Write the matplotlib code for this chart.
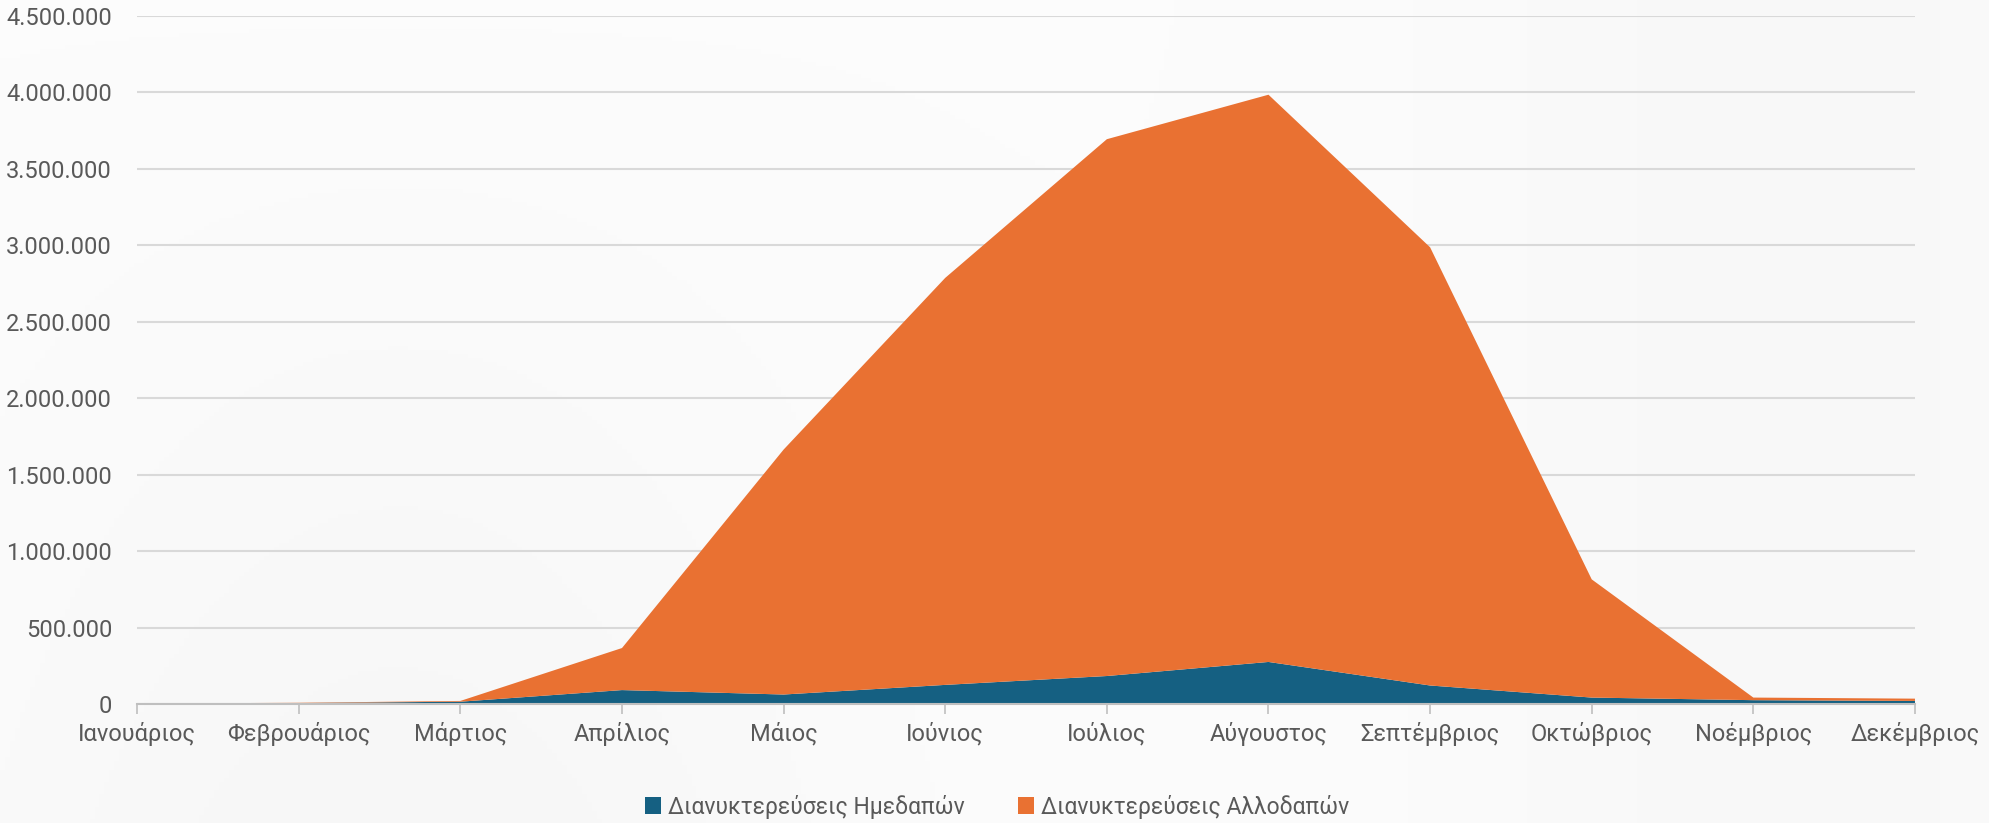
import numpy as np
import matplotlib.pyplot as plt
from matplotlib.ticker import FuncFormatter

months = ["Ιανουάριος", "Φεβρουάριος", "Μάρτιος", "Απρίλιος", "Μάιος", "Ιούνιος",
          "Ιούλιος", "Αύγουστος", "Σεπτέμβριος", "Οκτώβριος", "Νοέμβριος", "Δεκέμβριος"]

# overnight stays
domestic = [2000, 6000, 15000, 91000, 62000, 125000,
            183000, 275000, 121000, 42000, 25000, 20000]
foreign = [1000, 2000, 5000, 275000, 1602000, 2662000,
           3511000, 3710000, 2866000, 773000, 17000, 15000]

labels = ["Διανυκτερεύσεις Ημεδαπών", "Διανυκτερεύσεις Αλλοδαπών"]
colors = ["#156082", "#E97132"]

plt.rcParams['font.family'] = ['Roboto', 'DejaVu Sans']

fig = plt.figure(figsize=(19.9, 8.23), dpi=100)
fig.patch.set_facecolor("white")

# faint grey background wash
bg = fig.add_axes([0, 0, 1, 1], zorder=-10)
gx, gy = np.meshgrid(np.linspace(0, 1, 400), np.linspace(0, 1, 200))
wash = 0.985 - 0.02 * np.exp(-((gx - 0.2) ** 2) / 0.05) * (1 - gy) - 0.015 * np.exp(-((gx - 0.9) ** 2) / 0.03)
bg.imshow(wash, cmap="gray", vmin=0, vmax=1, aspect="auto", extent=[0, 1, 0, 1], origin="lower")
bg.axis("off")

ax = fig.add_axes([0.0689, 0.1446, 0.8934, 0.836])
ax.patch.set_alpha(0)

x = np.arange(len(months))
ax.stackplot(x, domestic, foreign, colors=colors, labels=labels, linewidth=0)

ax.set_xlim(0, len(months) - 1)
ax.set_ylim(0, 4500000)
ax.set_yticks(np.arange(0, 4500001, 500000))
ax.yaxis.set_major_formatter(FuncFormatter(lambda v, p: f"{int(v):,}".replace(",", ".")))
ax.set_xticks(x)
ax.set_xticklabels(months)

ax.grid(axis="y", color="#d9d9d9", linewidth=1.5)
ax.set_axisbelow(True)
for s in ["top", "right", "left"]:
    ax.spines[s].set_visible(False)
ax.spines["bottom"].set_color("#bfbfbf")
ax.spines["bottom"].set_linewidth(1.5)

ax.tick_params(axis="y", length=0, pad=18, labelsize=17, labelcolor="#595959")
ax.tick_params(axis="x", length=7, width=1.2, color="#bfbfbf", pad=6,
               labelsize=17, labelcolor="#595959")

leg = fig.legend(loc="center", bbox_to_anchor=(0.501, 0.02), ncol=2, frameon=False,
                 fontsize=16.5, handlelength=0.7, handleheight=0.7, handletextpad=0.3,
                 columnspacing=2.3)
for t in leg.get_texts():
    t.set_color("#595959")

fig.savefig("out.png", dpi=100)
